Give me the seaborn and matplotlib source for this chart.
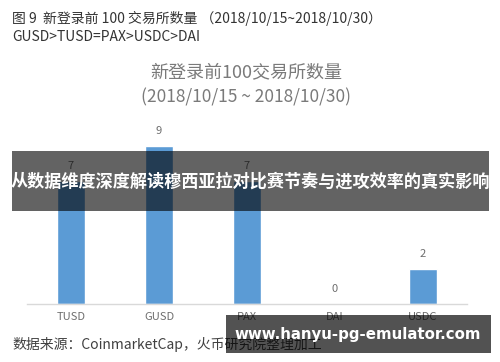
import matplotlib
matplotlib.use("Agg")
import matplotlib.pyplot as plt
import seaborn as sns
import pandas as pd
from matplotlib.patches import Rectangle

categories = ["TUSD", "GUSD", "PAX", "DAI", "USDC"]
values = [7, 9, 7, 0, 2]

header1 = "图 9  新登录前 100 交易所数量 （2018/10/15~2018/10/30）"
header2 = "GUSD>TUSD=PAX>USDC>DAI"
title1 = "新登录前100交易所数量"
title2 = "(2018/10/15 ~ 2018/10/30)"
source = "数据来源：CoinmarketCap，火币研究院整理加工"
banner_text = "从数据维度深度解读穆西亚拉对比赛节奏与进攻效率的真实影响"
url_text = "www.hanyu-pg-emulator.com"

sns.set_theme(style="white")
plt.rcParams["font.family"] = ["Noto Sans CJK SC", "DejaVu Sans"]

W, H = 500, 362
fig = plt.figure(figsize=(W / 100, H / 100), dpi=100)
fig.patch.set_facecolor("white")

# axes placement (pixel-based)
x0, x1 = 27, 467
y_base, y_top = 303.5, 120
ax = fig.add_axes([x0 / W, (H - y_base) / H, (x1 - x0) / W, (y_base - y_top) / H])

df = pd.DataFrame({"cat": categories, "val": values})
sns.barplot(data=df, x="cat", y="val", color="#5b9bd5", width=0.32,
            saturation=1, ax=ax)
ax.set_xlim(-0.5, 4.5)
ax.set_ylim(0, (y_base - y_top) / 17.5)
ax.set_xlabel("")
ax.set_ylabel("")
ax.set_yticks([])
for s in ["top", "right", "left"]:
    ax.spines[s].set_visible(False)
ax.spines["bottom"].set_color("#d9d9d9")
ax.spines["bottom"].set_linewidth(1.0)
ax.tick_params(axis="x", length=0, pad=6, labelsize=8, labelcolor="#6e6e6e")
ax.patch.set_alpha(0)

for i, v in enumerate(values):
    ax.annotate(str(v), (i, v), xytext=(0, 7), textcoords="offset points",
                ha="center", va="bottom", fontsize=8, color="#6e6e6e")

def fy(py):
    return 1 - py / H

def fx(px):
    return px / W

fig.text(fx(12), fy(18), header1, fontsize=10, color="#333333", ha="left", va="center")
fig.text(fx(12), fy(37), header2, fontsize=10, color="#333333", ha="left", va="center")
fig.text(fx(246), fy(72), title1, fontsize=13, color="#7a7a7a", ha="center", va="center")
fig.text(fx(246), fy(97), title2, fontsize=12.5, color="#7a7a7a", ha="center", va="center")
fig.text(fx(12), fy(345), source, fontsize=10, color="#404040", ha="left", va="center")

# overlay banners
fig.patches.append(Rectangle((fx(12), fy(211)), fx(489) - fx(12), fy(151) - fy(211),
                             transform=fig.transFigure, facecolor="black",
                             alpha=0.61, edgecolor="none", zorder=10))
fig.text(fx(250.5), fy(182), banner_text, fontsize=12.3, color="white",
         fontweight="bold", ha="center", va="center", zorder=11)
fig.patches.append(Rectangle((fx(226), fy(353)), fx(491) - fx(226), fy(315) - fy(353),
                             transform=fig.transFigure, facecolor="black",
                             alpha=0.68, edgecolor="none", zorder=10))
fig.text(fx(358), fy(334), url_text, fontsize=10.8, color="white",
         fontweight="bold", ha="center", va="center", zorder=11,
         family=["DejaVu Sans"])

fig.savefig("out.png", dpi=100)
